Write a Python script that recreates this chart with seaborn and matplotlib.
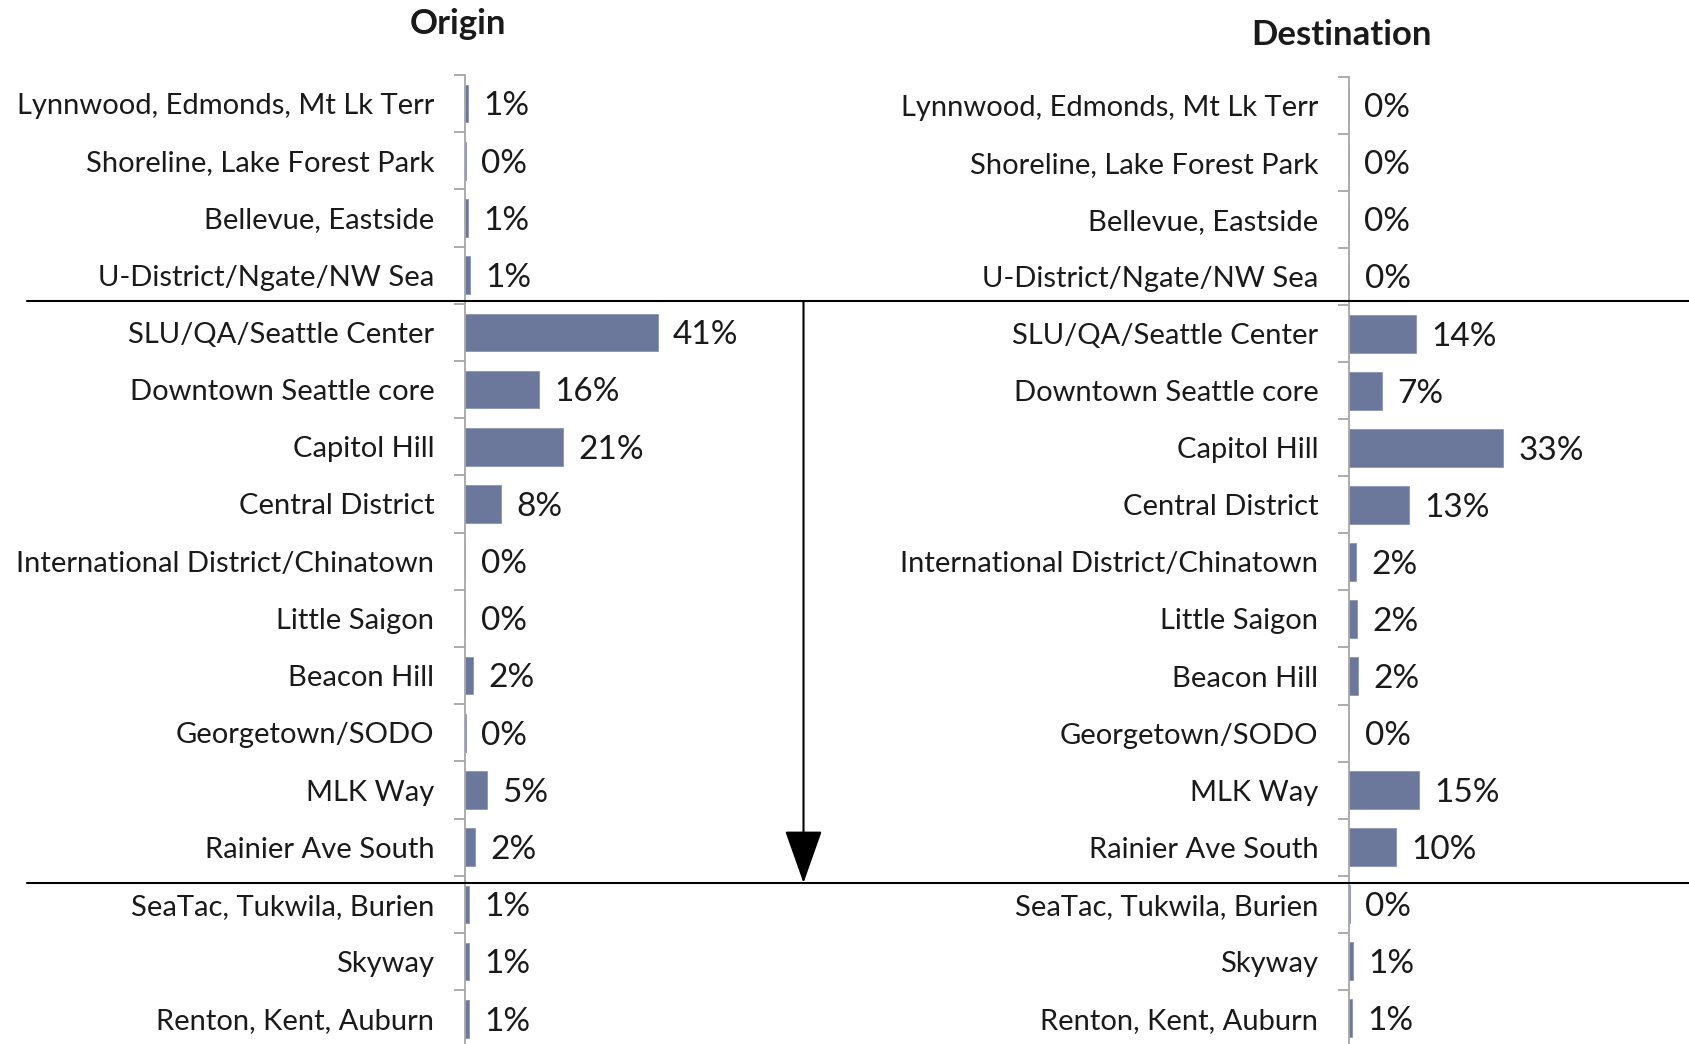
import matplotlib
matplotlib.use("Agg")
import matplotlib.pyplot as plt
import seaborn as sns
import pandas as pd
from matplotlib.patches import FancyArrowPatch, ArrowStyle
from matplotlib.lines import Line2D

categories = ["Lynnwood, Edmonds, Mt Lk Terr", "Shoreline, Lake Forest Park", "Bellevue, Eastside",
              "U-District/Ngate/NW Sea", "SLU/QA/Seattle Center", "Downtown Seattle core",
              "Capitol Hill", "Central District", "International District/Chinatown",
              "Little Saigon", "Beacon Hill", "Georgetown/SODO", "MLK Way", "Rainier Ave South",
              "SeaTac, Tukwila, Burien", "Skyway", "Renton, Kent, Auburn"]
origin = [0.7, 0.2, 0.7, 1.1, 41.0, 15.7, 20.8, 7.6, 0.1, 0.1, 1.7, 0.2, 4.6, 2.2, 0.8, 0.8, 0.8]
destination = [0.0, 0.0, 0.0, 0.1, 14.2, 7.0, 32.8, 12.8, 1.5, 1.7, 2.0, 0.1, 14.8, 10.0, 0.2, 0.8, 0.6]
titles = ["Origin", "Destination"]

sns.set_theme(style="white")
plt.rcParams['font.family'] = ['Lato', 'DejaVu Sans']

W, H = 1689, 1044
fig = plt.figure(figsize=(W / 100, H / 100), dpi=100)

bar_color = "#6c779c"
spine_color = "#a6a6a6"
px_per_pct = 4.7
xmax = 50
fs = 21
vfs = 24

def fx(px):
    return px / W

def fy(py):
    return 1 - py / H

panels = [
    (origin, 465, 75, 57.2, titles[0], 458, 24),
    (destination, 1349, 77, 57.05, titles[1], 1342, 35),
]
n = len(categories)
for vals, x0, top, row_h, title, tx, ty in panels:
    bottom = top + n * row_h
    ax = fig.add_axes([fx(x0), fy(bottom), fx(xmax * px_per_pct), (bottom - top) / H])
    df = pd.DataFrame({"cat": categories, "val": vals})
    sns.barplot(data=df, x="val", y="cat", ax=ax, color=bar_color, width=0.66,
                saturation=1, edgecolor="#8a94b4", linewidth=0.6)
    ax.set_xlim(0, xmax)
    ax.set_ylim(n - 0.5, -0.5)
    ax.set_xlabel("")
    ax.set_ylabel("")
    ax.set_xticks([])
    for s in ["top", "right", "bottom"]:
        ax.spines[s].set_visible(False)
    ax.spines["left"].set_color(spine_color)
    ax.spines["left"].set_linewidth(1.3)
    ax.set_yticks(range(n))
    ax.set_yticklabels(categories, fontsize=fs, color="#1a1a1a")
    ax.tick_params(axis="y", which="major", length=0, pad=22)
    ax.set_yticks([i - 0.5 for i in range(n + 1)], minor=True)
    ax.tick_params(axis="y", which="minor", left=True, length=8, width=1.3,
                   color=spine_color, direction="out")
    ax.patch.set_alpha(0)
    for i, v in enumerate(vals):
        ax.annotate(f"{v:.0f}%", xy=(v, i), xytext=(11, -2), textcoords="offset points",
                    va="center", ha="left", fontsize=vfs, color="#1a1a1a")
    fig.text(fx(tx), fy(ty), title, ha="center", va="center", fontsize=25,
             fontweight="bold", color="#1a1a1a")

for yy in [300.5, 883]:
    fig.add_artist(Line2D([fx(27), 1.0], [fy(yy), fy(yy)], color="black", lw=1.5,
                          transform=fig.transFigure))

arrow = FancyArrowPatch((fx(803.5), fy(302)), (fx(803.5), fy(883)), transform=fig.transFigure,
                        arrowstyle=ArrowStyle("-|>", head_length=34, head_width=12),
                        mutation_scale=1, lw=1.5, color="black", shrinkA=0, shrinkB=0)
fig.add_artist(arrow)

fig.savefig("out.png", dpi=100)
